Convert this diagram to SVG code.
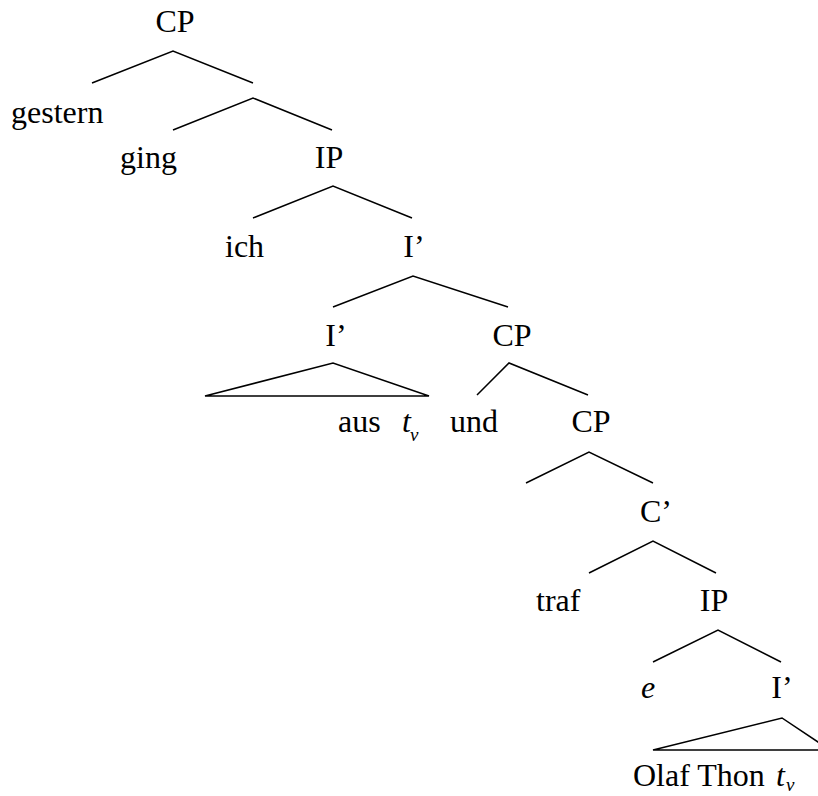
<svg xmlns="http://www.w3.org/2000/svg" width="818" height="796" viewBox="0 0 818 796">
<style>
text{font-family:"Liberation Serif","Times New Roman",serif;font-size:32px;fill:#000}
.m{text-anchor:middle}
.i{font-style:italic}
.s{font-size:19px;font-style:italic}
line,polyline,polygon{stroke:#000;stroke-width:1.5;fill:none}
</style>
<rect width="818" height="796" fill="#fff"/>
<g id="connectors">
<polyline points="92,83 173,51 253,83"/>
<polyline points="173,130 253,98 332,130"/>
<polyline points="253,218 333,186 412,218"/>
<polyline points="333,307 413,276 508,307"/>
<polygon points="205,396 333,363 429,396"/>
<polyline points="477,395 509,363 588,395"/>
<polyline points="526,483 589,452 653,483"/>
<polyline points="589,573 653,541 716,573"/>
<polyline points="653,662 718,630 781,662"/>
<polygon points="653,750 782,718 830,750"/>
</g>
<g id="n-cp1"><text class="m" x="175" y="32">CP</text></g>
<g id="n-gestern"><text x="11" y="123">gestern</text></g>
<g id="n-ging"><text x="120" y="168">ging</text></g>
<g id="n-ip1"><text class="m" x="329" y="168">IP</text></g>
<g id="n-ich"><text x="225" y="257">ich</text></g>
<g id="n-i1"><text class="m" x="414" y="257">I’</text></g>
<g id="n-i2"><text class="m" x="336" y="346">I’</text></g>
<g id="n-cp2"><text class="m" x="512" y="346">CP</text></g>
<g id="n-aus"><text x="338" y="432">aus</text><text class="i" x="402" y="432">t</text><text class="s" x="410" y="441">v</text></g>
<g id="n-und"><text x="450" y="432">und</text></g>
<g id="n-cp3"><text class="m" x="591" y="432">CP</text></g>
<g id="n-c1"><text class="m" x="656" y="522">C’</text></g>
<g id="n-traf"><text x="536" y="611">traf</text></g>
<g id="n-ip2"><text class="m" x="714" y="611">IP</text></g>
<g id="n-e"><text class="i" x="641" y="698">e</text></g>
<g id="n-i3"><text class="m" x="782" y="698">I’</text></g>
<g id="n-olaf"><text x="633" y="786">Olaf Thon</text><text class="i" x="776" y="786">t</text><text class="s" x="786" y="791">v</text></g>
</svg>
